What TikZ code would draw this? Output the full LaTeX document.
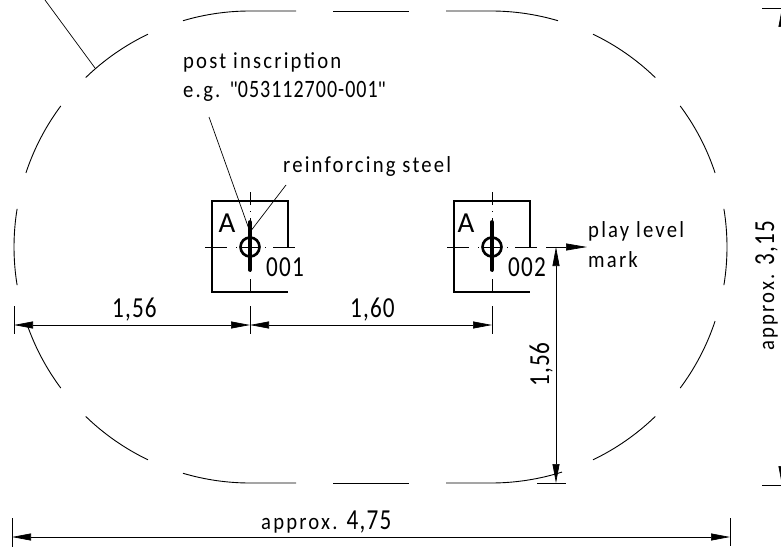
\documentclass[tikz,border=0pt]{standalone}
\usepackage{fontspec}
\setmainfont{Carlito}
\newfontfamily\notefont[LetterSpace=9.5,FakeStretch=0.9]{Carlito}
\newfontfamily\numfont[LetterSpace=4,FakeStretch=0.8]{Carlito}
\usetikzlibrary{calc}
\usetikzlibrary{arrows.meta}
\tikzset{
    outline/.style={line width=0.9pt},
    thickline/.style={line width=2.6pt},
    thinline/.style={line width=0.7pt},
    dimline/.style={line width=0.7pt,{Triangle[length=19pt,width=7pt]}-{Triangle[length=19pt,width=7pt]}},
    horizaxis/.style={line width=0.7pt,dash pattern=on 22pt off 9pt on 1pt off 4pt on 19pt off 5pt on 1pt off 7pt on 23pt off 100pt},
    vertaxis/.style={line width=0.7pt,dash pattern=on 13pt off 6pt on 1pt off 6pt on 47pt off 6pt on 1pt off 7pt on 12pt off 100pt},
    note/.style={anchor=base west,inner sep=0pt,font=\notefont\fontsize{23}{27}\selectfont},
    dimtext/.style={anchor=base west,inner sep=0pt,font=\numfont\fontsize{29}{33}\selectfont},
    boxletter/.style={anchor=base west,inner sep=0pt,font=\fontsize{29}{33}\selectfont},
}
\newcommand{\bignum}[1]{{\numfont\fontsize{29}{33}\selectfont #1}}
\newcommand{\smallnum}[1]{{\numfont\fontsize{25}{29}\selectfont #1}}
\begin{document}
\begin{tikzpicture}[x=1pt,y=1pt]
        \clip (0,0) rectangle (781,550);
        \coordinate (L) at (250,303);
        \coordinate (R) at (491,303);
        % dashed oval
        \foreach \a/\b in {115.6/134.1,143.3/161.7,170.7/189.3,199.7/216.7,225.9/244.4}
            \draw[outline] ($(L)+(\a:236pt)$) arc (\a:\b:236pt);
        \foreach \a/\b in {64.4/45.9,36.7/18.3,9.3/-9.3,-18.3/-36.7,-45.9/-64.4}
            \draw[outline] ($(R)+(\a:236pt)$) arc (\a:\b:236pt);
        \draw[outline] ($(L)+(106.5:236pt)$) arc (106.5:90:236pt) -- (296,539);
        \draw[outline] ($(L)+(253.5:236pt)$) arc (253.5:270:236pt) -- (296,67);
        \draw[outline] ($(R)+(73.5:236pt)$) arc (73.5:90:236pt) -- (446,539);
        \draw[outline] ($(R)+(287.5:236pt)$) arc (287.5:270:236pt) -- (446,67);
        \draw[outline] (333,539) -- (409,539);
        \draw[outline] (333,67) -- (409,67);
        % left post and right post
        \foreach \px in {250,492}{
            \coordinate (C) at (\px,303);
            \draw[horizaxis] ($(C)+(-45,0)$) -- ($(C)+(45,0)$);
            \draw[vertaxis] ($(C)+(0,55)$) -- ($(C)+(0,-44)$);
            \draw[line width=3.6pt,line cap=round] ($(C)+(0,25)$) -- ($(C)+(0,-23)$);
            \draw[thickline] (C) circle (9.5pt);
            \draw[thinline] ($(C)+(0,-59)$) -- ($(C)+(0,-87)$);
        }
        \draw[thickline] (288,303) -- (288,349) -- (212,349) -- (212,258) -- (288,258);
        \draw[thickline] (530,303) -- (530,349) -- (454,349) -- (454,258) -- (530,258);
        \node (A1) [boxletter] at (218.5,318) {A};
        \node (A2) [boxletter] at (457.5,318) {A};
        \node (tagone) [dimtext] at (266,274) {001};
        \node (tagtwo) [dimtext] at (508,274) {002};
        % leaders
        \coordinate (top) at (45,550);
        \coordinate (rim) at (95,482);
        \draw[thinline] (top) -- (rim);
        \node (inscr) [note] at (183,481) {post inscription};
        \node (inscrb) [note] at (183,452) {e.g. "\smallnum{053112700-001}"};
        \node (steel) [note] at (283,378) {reinforcing steel};
        \coordinate (postend) at (250,318);
        \coordinate (ia) at (209,433);
        \coordinate (sa) at (286,365);
        \draw[thinline] (ia) -- (postend);
        \draw[thinline] (sa) -- (postend);
        % play level
        \coordinate (pa) at (546,303);
        \coordinate (pb) at (587,303);
        \draw[thinline,-{Triangle[length=21pt,width=7pt]}] (pa) -- (pb);
        \node (play) [note] at (588,313) {play level};
        \node (mark) [note] at (588,283) {mark};
        % dimensions
        \coordinate (d1) at (14,225);
        \coordinate (d2) at (250,225);
        \coordinate (d3) at (492,225);
        \draw[thinline] (14,244) -- (14,216);
        \draw[dimline] (d1) -- (d2);
        \draw[dimline] (d2) -- (d3);
        \node (dimA) [dimtext] at (112,233) {1,56};
        \node (dimB) [dimtext] at (350,233) {1,60};
        \coordinate (e1) at (556,303);
        \coordinate (e2) at (556,67);
        \draw[dimline] (e1) -- (e2);
        \draw[thinline] (537,67) -- (566,67);
        \node (dimC) [dimtext,rotate=90] at (549,163) {1,56};
        \coordinate (f1) at (12,13);
        \coordinate (f2) at (730,13);
        \draw[thinline] (12,32) -- (12,3);
        \draw[thinline] (730,32) -- (730,4);
        \draw[dimline] (f1) -- (f2);
        \node (total) [note] at (261,21) {approx. \bignum{4,75}};
        \coordinate (g1) at (782,542);
        \coordinate (g2) at (782,65);
        \draw[thinline] (762,542) -- (781,542);
        \draw[thinline] (762,65) -- (781,65);
        \draw[dimline] (g1) -- (g2);
        \node (height) [note,rotate=90] at (774,199) {approx. \bignum{3,15}};
    \end{tikzpicture}
\end{document}
